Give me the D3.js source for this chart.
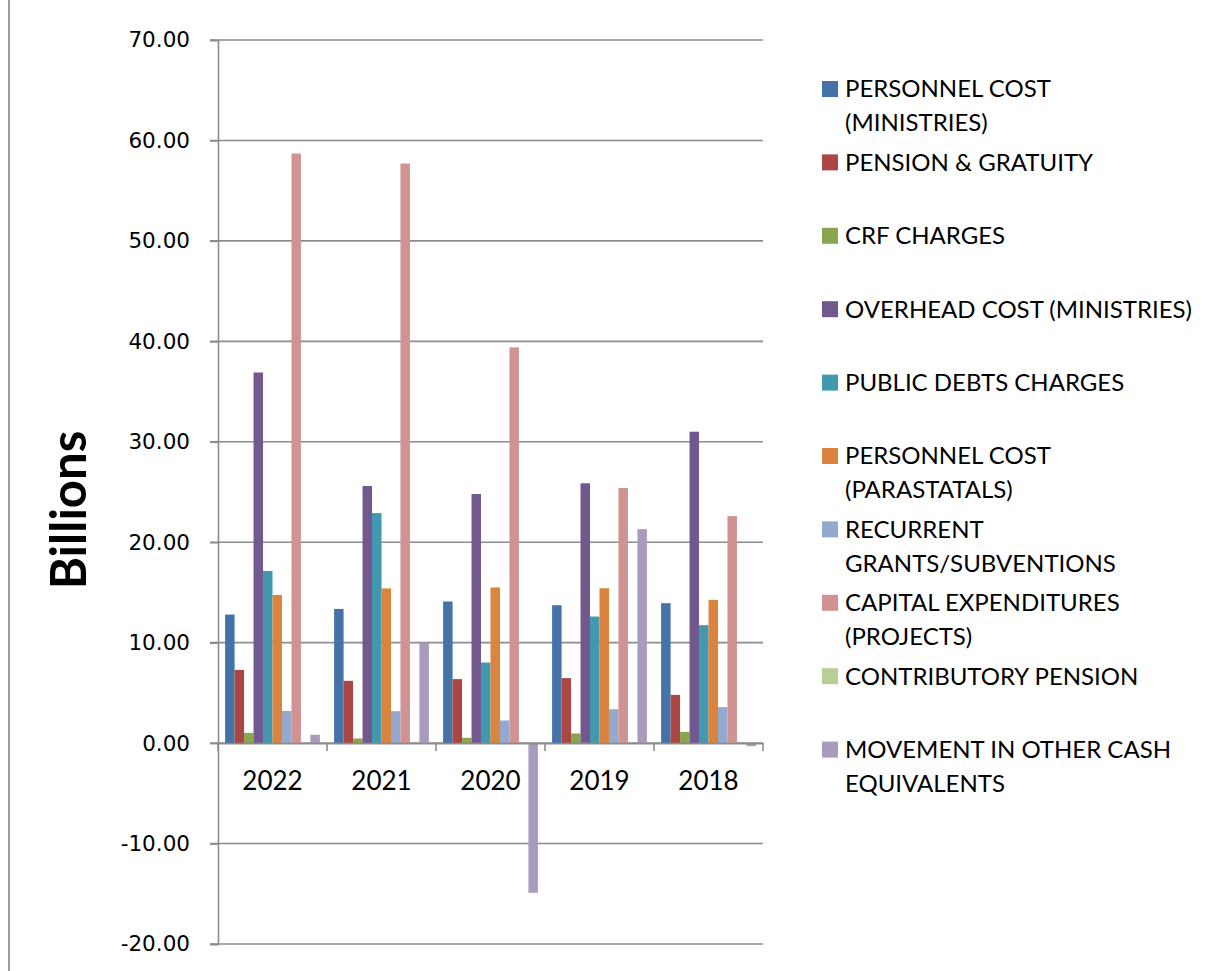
<!DOCTYPE html>
<html>
<head>
<meta charset="utf-8">
<script src="https://cdn.jsdelivr.net/npm/d3@7"></script>
<style>
  body { margin: 0; background: #fff; }
  svg { display: block; }
</style>
</head>
<body>
<div id="chart"></div>
<script>
// categories (x axis)
const years = ["2022", "2021", "2020", "2019", "2018"];

// series names in legend order
const seriesNames = [
  "PERSONNEL COST (MINISTRIES)",
  "PENSION & GRATUITY",
  "CRF CHARGES",
  "OVERHEAD COST (MINISTRIES)",
  "PUBLIC DEBTS CHARGES",
  "PERSONNEL COST (PARASTATALS)",
  "RECURRENT GRANTS/SUBVENTIONS",
  "CAPITAL EXPENDITURES (PROJECTS)",
  "CONTRIBUTORY PENSION",
  "MOVEMENT IN OTHER CASH EQUIVALENTS"
];

// legend text split into lines
const legendLines = [
  ["PERSONNEL COST", "(MINISTRIES)"],
  ["PENSION & GRATUITY"],
  ["CRF CHARGES"],
  ["OVERHEAD COST (MINISTRIES)"],
  ["PUBLIC DEBTS CHARGES"],
  ["PERSONNEL COST", "(PARASTATALS)"],
  ["RECURRENT", "GRANTS/SUBVENTIONS"],
  ["CAPITAL EXPENDITURES", "(PROJECTS)"],
  ["CONTRIBUTORY PENSION"],
  ["MOVEMENT IN OTHER CASH", "EQUIVALENTS"]
];

// values in billions, one per year (2022 .. 2018)
const personnelMinistries  = [12.8, 13.36, 14.1, 13.73, 13.93];
const pensionGratuity      = [7.29, 6.2, 6.37, 6.47, 4.8];
const crfCharges           = [1.02, 0.46, 0.53, 0.96, 1.12];
const overheadMinistries   = [36.9, 25.6, 24.8, 25.87, 31.0];
const publicDebts          = [17.14, 22.9, 8.02, 12.6, 11.74];
const personnelParastatals = [14.75, 15.4, 15.5, 15.42, 14.26];
const recurrentGrants      = [3.2, 3.18, 2.25, 3.38, 3.58];
const capitalExpenditures  = [58.7, 57.7, 39.4, 25.4, 22.6];
const contributoryPension  = [0, 0, 0, 0, 0];
const movementCash         = [0.83, 10.0, -14.9, 21.3, -0.3];

const yTicks = [-20, -10, 0, 10, 20, 30, 40, 50, 60, 70];

const colors = ["#4572A7", "#AA4643", "#89A54E", "#71588F", "#4198AF",
                "#DB843D", "#93A9CF", "#D19392", "#B9CD96", "#A99BBD"];

const seriesValues = [personnelMinistries, pensionGratuity, crfCharges,
  overheadMinistries, publicDebts, personnelParastatals, recurrentGrants,
  capitalExpenditures, contributoryPension, movementCash];

// build flat rows for drawing
const rows = [];
years.forEach((yr, i) => {
  seriesNames.forEach((s, j) => {
    rows.push({ year: yr, series: s, value: seriesValues[j][i], color: colors[j] });
  });
});

const W = 1210, H = 971;
const plot = { left: 218, right: 763, top: 40, bottom: 944 };

const svg = d3.select("#chart").append("svg")
  .attr("width", W)
  .attr("height", H);

// outer left border line
svg.append("line")
  .attr("x1", 9).attr("x2", 9)
  .attr("y1", 0).attr("y2", H)
  .attr("stroke", "#9a9a9a")
  .attr("stroke-width", 2);

// scales
const x0 = d3.scaleBand()
  .domain(years)
  .range([plot.left, plot.right])
  .paddingInner(0).paddingOuter(0);

const x1 = d3.scaleBand()
  .domain(seriesNames)
  .range([0, x0.bandwidth()])
  .paddingInner(0)
  .paddingOuter(0.75);

const y = d3.scaleLinear()
  .domain([-20, 70])
  .range([plot.bottom, plot.top]);

// gridlines
svg.append("g")
  .selectAll("line")
  .data(yTicks)
  .join("line")
  .attr("x1", plot.left - 8)
  .attr("x2", plot.right)
  .attr("y1", d => y(d))
  .attr("y2", d => y(d))
  .attr("stroke", "#8c8c8c")
  .attr("stroke-width", 1.6);

// y axis (plain hyphen for negatives, like the original)
const yAxis = d3.axisLeft(y)
  .tickValues(yTicks)
  .tickFormat(d => d.toFixed(2))
  .tickSize(8)
  .tickPadding(20);

const gy = svg.append("g")
  .attr("transform", `translate(${plot.left},0)`)
  .call(yAxis);
gy.select(".domain").attr("stroke", "#8c8c8c").attr("stroke-width", 1.6);
gy.selectAll(".tick line").attr("stroke", "#8c8c8c").attr("stroke-width", 1.6);
gy.selectAll(".tick text")
  .attr("font-family", "DejaVu Sans, Verdana, sans-serif")
  .attr("font-size", 21.5)
  .attr("fill", "#000");

// bars
svg.append("g")
  .selectAll("rect")
  .data(rows)
  .join("rect")
  .attr("x", d => x0(d.year) + x1(d.series))
  .attr("width", x1.bandwidth())
  .attr("y", d => y(Math.max(0, d.value)))
  .attr("height", d => Math.abs(y(d.value) - y(0)))
  .attr("fill", d => d.color);

// x axis at zero
const xAxis = d3.axisBottom(x0)
  .tickSize(0)
  .tickPadding(28);

const gx = svg.append("g")
  .attr("transform", `translate(0,${y(0)})`)
  .call(xAxis);
gx.select(".domain").attr("stroke", "#8c8c8c").attr("stroke-width", 1.6);
gx.selectAll(".tick text")
  .attr("font-family", "Lato, Carlito, sans-serif")
  .attr("font-size", 26)
  .attr("fill", "#000");

// category boundary ticks
gx.append("g")
  .selectAll("line")
  .data(years.concat(["end"]))
  .join("line")
  .attr("x1", (d, i) => plot.left + i * x0.step())
  .attr("x2", (d, i) => plot.left + i * x0.step())
  .attr("y1", 0)
  .attr("y2", 8)
  .attr("stroke", "#8c8c8c")
  .attr("stroke-width", 1.6);

// y axis title
svg.append("text")
  .attr("transform", "translate(86,510) rotate(-90)")
  .attr("text-anchor", "middle")
  .attr("font-family", "Lato, Carlito, sans-serif")
  .attr("font-weight", "bold")
  .attr("font-size", 49)
  .attr("fill", "#000")
  .text("Billions");

// legend
const legend = svg.append("g")
  .attr("transform", "translate(822,89)");

const item = legend.selectAll("g")
  .data(seriesNames)
  .join("g")
  .attr("transform", (d, i) => `translate(0,${i * 73.4})`);

item.append("rect")
  .attr("x", 0)
  .attr("y", -8)
  .attr("width", 16)
  .attr("height", 16)
  .attr("fill", (d, i) => colors[i]);

item.each(function(d, i) {
  const t = d3.select(this).append("text")
    .attr("x", 23)
    .attr("font-family", "Lato, Carlito, sans-serif")
    .attr("font-size", 24)
    .attr("fill", "#000");
  legendLines[i].forEach((ln, k) => {
    t.append("tspan")
      .attr("x", 23)
      .attr("y", k * 34)
      .attr("dy", "0.35em")
      .text(ln);
  });
});
</script>
</body>
</html>
